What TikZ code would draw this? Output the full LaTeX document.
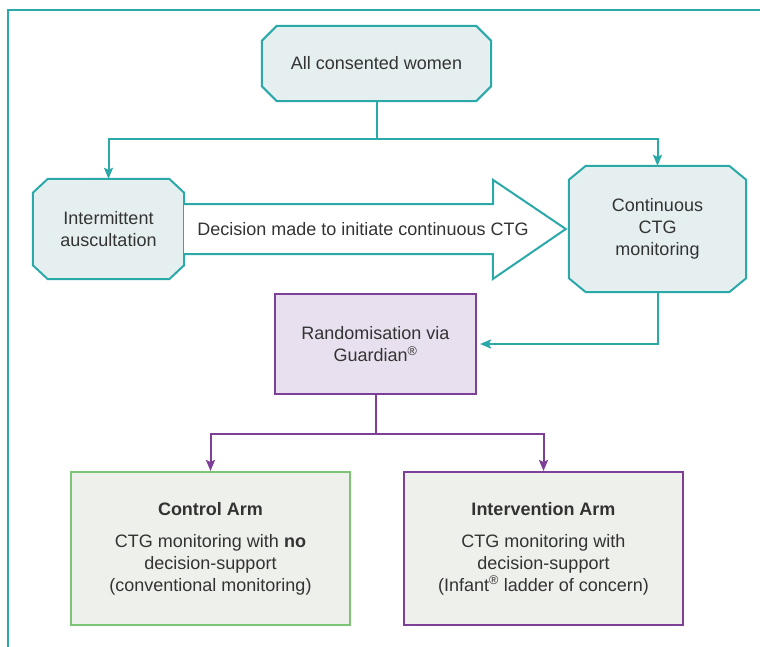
\documentclass[tikz,border=0pt]{standalone}
\usepackage{fontspec}
\setmainfont{Liberation Sans}
\usetikzlibrary{arrows.meta,backgrounds}
\definecolor{teal1}{HTML}{2BA9A9}
\definecolor{tealfill}{HTML}{E5EFF0}
\definecolor{purp}{HTML}{7D3F98}
\definecolor{purpfill}{HTML}{E8E0EE}
\definecolor{grn}{HTML}{7CC576}
\definecolor{armfill}{HTML}{EEF0EB}
\definecolor{txt}{HTML}{333333}
\newcommand\octoshape[3]{% node, xcut, ycut
  \filldraw[octline] ([xshift=#2]#1.north west) -- ([xshift=-#2]#1.north east)
    -- ([yshift=-#3]#1.north east) -- ([yshift=#3]#1.south east)
    -- ([xshift=-#2]#1.south east) -- ([xshift=#2]#1.south west)
    -- ([yshift=#3]#1.south west) -- ([yshift=-#3]#1.north west) -- cycle;}
\begin{document}
\begin{tikzpicture}[x=1pt,y=-1pt,
  every node/.style={font=\fontsize{18}{22}\selectfont, text=txt, align=center, inner sep=0pt},
  octline/.style={draw=teal1, fill=tealfill, line width=2pt},
  tline/.style={draw=teal1, line width=2pt},
  pline/.style={draw=purp, line width=2pt},
  tip/.style={-{Stealth[length=11pt,width=9pt,inset=2pt]}},
  sqbox/.style={line width=2pt}]
\useasboundingbox (0,0) rectangle (760,646);
\draw[teal1, line width=2pt] (8,670) -- (8,10) -- (780,10);

\node[minimum width=229pt, minimum height=75pt] (all) at (376.5,63.5) {All consented women};
\node[minimum width=151pt, minimum height=100pt] (ia) at (108.5,229) {Intermittent\\auscultation};
\node[minimum width=177pt, minimum height=126pt] (cc) at (657.5,229) {Continuous\\CTG\\monitoring};
\begin{scope}[on background layer]
\octoshape{all}{15pt}{15pt}
\octoshape{ia}{15pt}{14pt}
\octoshape{cc}{17pt}{14pt}
\end{scope}

% big arrow
\filldraw[tline, fill=white] ([yshift=25pt]ia.east) -- ++(309,0) -- ++(0,-24) coordinate (hd)
  -- ([xshift=-3pt]cc.west) -- ++(-73,50) -- ++(0,-25) -- ([yshift=-25pt]ia.east);
\node (dec) at (363,229) {Decision made to initiate continuous CTG};

\node[sqbox, draw=purp, fill=purpfill, minimum width=201pt, minimum height=100pt] (rnd) at (375.5,344)
  {Randomisation via\\Guardian\textsuperscript{®}};
\node[sqbox, draw=grn, fill=armfill, minimum width=279pt, minimum height=153pt] (ctrl) at (210.5,548.5)
  {\textbf{Control Arm}\\[10pt]CTG monitoring with \textbf{no}\\decision-support\\(conventional monitoring)};
\node[sqbox, draw=purp, fill=armfill, minimum width=279pt, minimum height=153pt] (intv) at (543.5,548.5)
  {\textbf{Intervention Arm}\\[10pt]CTG monitoring with\\decision-support\\(Infant\textsuperscript{®} ladder of concern)};

% connectors
\draw[tline] (all.south) -- ++(0,38) coordinate (j1);
\draw[tline, tip] (j1) -| (ia.north);
\draw[tline, tip] (j1) -| (cc.north);
\draw[tline, tip, shorten >=3pt] (cc.south) |- (rnd.east);
\draw[pline] (rnd.south) -- ++(0,39) coordinate (j2);
\draw[pline, tip] (j2) -| (ctrl.north);
\draw[pline, tip] (j2) -| (intv.north);
\end{tikzpicture}
\end{document}
